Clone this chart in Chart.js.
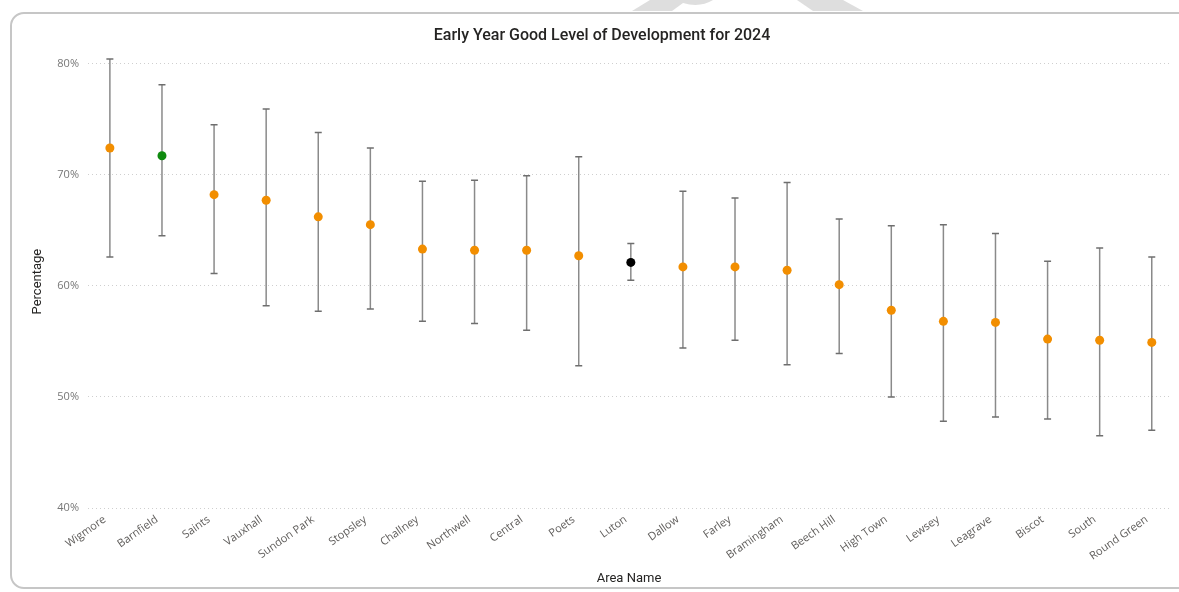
<!DOCTYPE html>
<html>
<head>
<meta charset="utf-8">
<script src="https://cdn.jsdelivr.net/npm/chart.js@4"></script>
<style>
  html, body { margin: 0; padding: 0; background: #fff; overflow: hidden; }
  #wrap { position: relative; width: 1179px; height: 592px; }
  #card {
    position: absolute; left: 10px; top: 12px; width: 1200px; height: 577px;
    border: 2px solid #c6c6c6; border-radius: 14px; box-sizing: border-box;
  }
  #marks { position: absolute; left: 0; top: 0; }
  #myChart { position: absolute; left: 0; top: 0; }
</style>
</head>
<body>
<div id="wrap">
  <svg id="marks" width="1179" height="14">
    <path d="M650 0 L632 11 L672 11 L683 3 Q700 8 713 0 Z" fill="#dedede"/>
    <path d="M797 0 L813 11 L863 11 L843 0 Z" fill="#dedede"/>
  </svg>
  <div id="card"></div>
  <canvas id="myChart" width="1179" height="592"></canvas>
</div>
<script>
    // areas, in the order they are plotted
    const areas = ["Wigmore", "Barnfield", "Saints", "Vauxhall", "Sundon Park", "Stopsley", "Challney",
        "Northwell", "Central", "Poets", "Luton", "Dallow", "Farley", "Bramingham", "Beech Hill",
        "High Town", "Lewsey", "Leagrave", "Biscot", "South", "Round Green"];
    // % reaching a good level of development
    const values = [72.4, 71.7, 68.2, 67.7, 66.2, 65.5, 63.3, 63.2, 63.2, 62.7, 62.1,
        61.7, 61.7, 61.4, 60.1, 57.8, 56.8, 56.7, 55.2, 55.1, 54.9];
    // confidence interval bounds
    const lower = [62.6, 64.5, 61.1, 58.2, 57.7, 57.9, 56.8, 56.6, 56.0, 52.8, 60.5,
        54.4, 55.1, 52.9, 53.9, 50.0, 47.8, 48.2, 48.0, 46.5, 47.0];
    const upper = [80.4, 78.1, 74.5, 75.9, 73.8, 72.4, 69.4, 69.5, 69.9, 71.6, 63.8,
        68.5, 67.9, 69.3, 66.0, 65.4, 65.5, 64.7, 62.2, 63.4, 62.6];
    const yTicks = [40, 50, 60, 70, 80];

    // Luton is the borough figure, Barnfield sits above it
    const compare = { "Luton": "#000000", "Barnfield": "#0f8a0f" };
    const dotColour = areas.map(a => compare[a] || "#f28e00");

    // error bars: low -> high segment per area, broken with a null
    const bars = [];
    areas.forEach((a, i) => {
        bars.push({ x: i, y: lower[i] });
        bars.push({ x: i, y: upper[i] });
        bars.push({ x: i, y: null });
    });

    const tickFont = { family: "'Open Sans', 'Noto Sans', sans-serif", size: 11 };
    const titleFont = { family: "Roboto, 'DejaVu Sans', sans-serif", size: 13 };

    let ctx = document.getElementById("myChart").getContext("2d");
    let chart = new Chart(ctx, {
        type: "line",
        data: {
            datasets: [{
                label: "Percentage",
                data: values.map((v, i) => ({ x: i, y: v })),
                showLine: false,
                pointRadius: 4.5,
                pointBorderWidth: 0,
                pointBackgroundColor: dotColour,
                pointBorderColor: dotColour
            }, {
                label: "Interval",
                data: bars,
                spanGaps: false,
                borderColor: "#8a8a8a",
                borderWidth: 1.5,
                pointStyle: "line",
                pointRadius: 3.5,
                pointBorderWidth: 1.5,
                pointBorderColor: "#6e6e6e"
            }]
        },
        options: {
            responsive: false,
            animation: false,
            // extra left padding keeps the title centred on the card
            layout: { padding: { left: 34, right: 9, top: 0, bottom: 0 } },
            plugins: {
                legend: { display: false },
                tooltip: { enabled: false },
                title: {
                    display: true,
                    text: "Early Year Good Level of Development for 2024",
                    color: "#252423",
                    font: { family: "Roboto, 'DejaVu Sans', sans-serif", size: 16, weight: "500" },
                    padding: { top: 26, bottom: 10 }
                }
            },
            scales: {
                x: {
                    type: "linear",
                    min: -0.42,
                    max: 20.35,
                    afterBuildTicks: (axis) => { axis.ticks = areas.map((a, i) => ({ value: i })); },
                    afterFit: (axis) => { axis.height = 84; },
                    grid: { display: false },
                    border: { display: false },
                    ticks: {
                        autoSkip: false,
                        minRotation: 35,
                        maxRotation: 35,
                        padding: -3,
                        labelOffset: -5,
                        color: "#605e5c",
                        font: tickFont,
                        callback: (v) => areas[v]
                    },
                    title: {
                        display: true,
                        text: "Area Name",
                        color: "#252423",
                        font: titleFont,
                        padding: { top: 0, bottom: 5 }
                    }
                },
                y: {
                    min: 40,
                    max: 80.75,
                    afterBuildTicks: (axis) => { axis.ticks = yTicks.map(v => ({ value: v })); },
                    afterFit: (axis) => { axis.width = 54; },
                    grid: { color: "#cfcfcf", lineWidth: 1, drawTicks: false },
                    border: { display: false, dash: [1, 3] },
                    ticks: {
                        padding: 9,
                        color: "#777777",
                        font: tickFont,
                        callback: (v) => v + "%"
                    },
                    title: {
                        display: true,
                        text: "Percentage",
                        color: "#252423",
                        font: titleFont,
                        padding: { top: -4, bottom: 0 }
                    }
                }
            }
        }
    });
</script>
</body>
</html>
